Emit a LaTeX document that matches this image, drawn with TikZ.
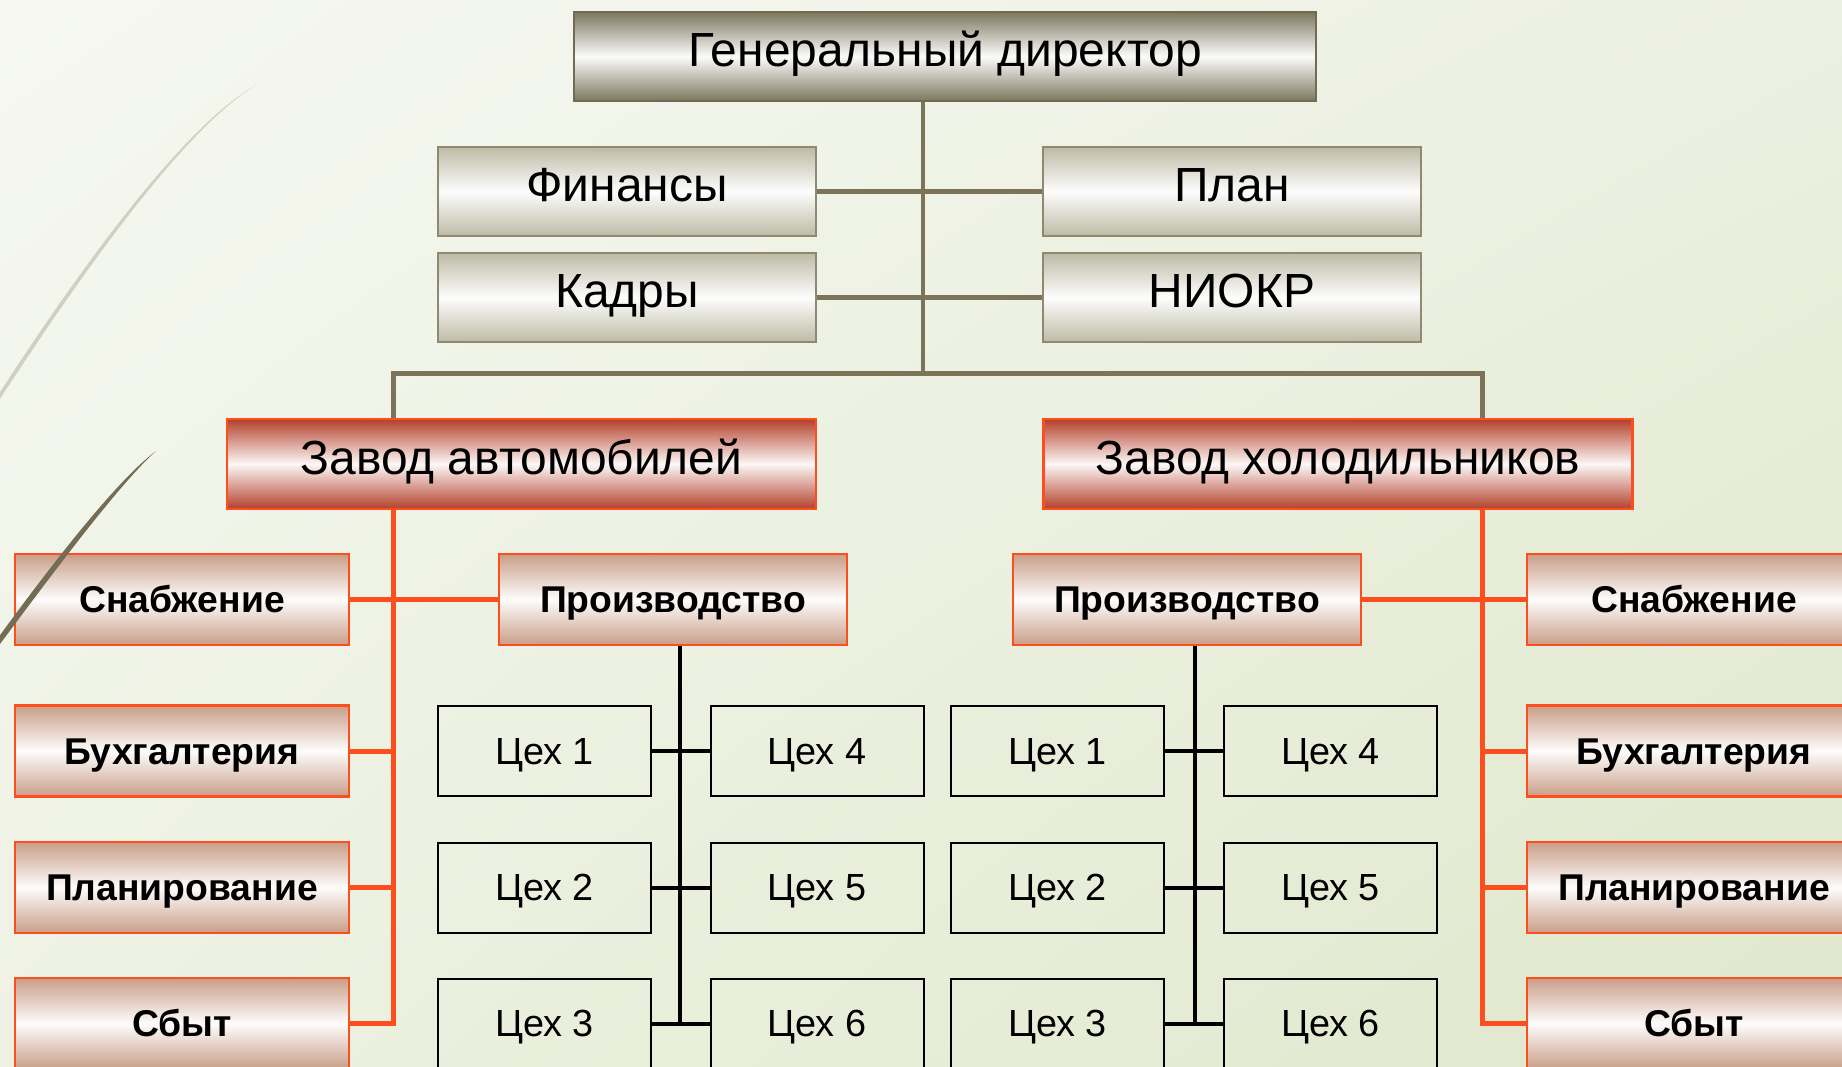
\documentclass[tikz,border=0pt]{standalone}
\usepackage{fontspec}
\setmainfont{Liberation Sans}
\usetikzlibrary{shadings}
\definecolor{bgA}{HTML}{F6F8F1}
\definecolor{bgB}{HTML}{ECF0E1}
\definecolor{bgC}{HTML}{EEF2E3}
\definecolor{bgD}{HTML}{DFE7CB}
\definecolor{olive}{HTML}{7B7459}
\definecolor{oliveDark}{HTML}{7D775F}
\definecolor{oliveLight}{HTML}{BDBAA5}
\definecolor{redLine}{HTML}{FF4E1E}
\definecolor{redDark}{HTML}{B3402A}
\definecolor{pinkTan}{HTML}{C99E88}
\definecolor{arcLight}{HTML}{CFD0C3}
\definecolor{arcDark}{HTML}{736D55}
\tikzset{
  bigfont/.style={font=\fontsize{47.9}{50}\selectfont, text height=34pt, text depth=14pt},
  boldfont/.style={font=\fontsize{37.3}{40}\selectfont\bfseries, text height=26.5pt, text depth=0pt},
  shopfont/.style={font=\fontsize{37.8}{40}\selectfont, text height=26.5pt, text depth=0pt},
  genbox/.style={rectangle, draw=oliveDark!90!black, line width=2pt, inner sep=0pt,
    top color=oliveDark, bottom color=oliveDark, middle color=white!97!oliveDark, bigfont},
  staffbox/.style={rectangle, draw=olive!85, line width=2pt, inner sep=0pt,
    top color=oliveLight, bottom color=oliveLight, middle color=white!97!oliveLight, bigfont,
    minimum width=378pt, minimum height=89pt},
  plantbox/.style={rectangle, draw=redLine, line width=2.5pt, inner sep=0pt,
    top color=redDark, bottom color=redDark, middle color=white!96!redDark, bigfont,
    minimum width=589pt, minimum height=90pt},
  deptbox/.style={rectangle, draw=redLine, line width=2.5pt, inner sep=0pt,
    top color=pinkTan, bottom color=pinkTan, middle color=white!97!pinkTan,
    boldfont, minimum height=91pt},
  shopbox/.style={rectangle, draw=black, line width=2pt, inner sep=0pt,
    shopfont, minimum width=213pt, minimum height=90pt},
  grayline/.style={draw=olive, line width=4.5pt},
  redline/.style={draw=redLine, line width=5pt},
  blackline/.style={draw=black, line width=4pt},
}
\begin{document}
\begin{tikzpicture}[x=1pt, y=-1pt]
% page and background
\useasboundingbox (0,0) rectangle (1842,1066);
\clip (0,0) rectangle (1842,1066);
\shade[upper left=bgA, upper right=bgB, lower left=bgC, lower right=bgD]
  (0,0) rectangle (1842,1066);

% light decorative swoosh on the left edge
\fill[arcLight] (256,85) .. controls (180,131) and (70,291) .. (-4,405)
  -- (-7,403) .. controls (67,288) and (178,129) .. (256,85) -- cycle;

% head office
\node[genbox, minimum width=742pt, minimum height=89pt] (gen) at (945,56.5) {Генеральный директор};
\node[staffbox] (fin)   at (627,191.5)  {Финансы};
\node[staffbox] (plan)  at (1232,191.5) {План};
\node[staffbox] (kad)   at (627,297.5)  {Кадры};
\node[staffbox] (niokr) at (1232,297.5) {НИОКР};

% plants
\node[plantbox] (zavA) at (521.5,464) {Завод автомобилей};
\node[plantbox] (zavX) at (1338,464)  {Завод холодильников};

% junction points of the connector trunks
\coordinate (hub) at (923,373.5);
\coordinate (jL) at (393.5,600);
\coordinate (jR) at (1482.5,600);
\coordinate (kL) at (680,1023.5);
\coordinate (kR) at (1195,1023.5);

% departments of the car plant
\node[deptbox, minimum width=334pt] (snabL) at (182,599.5)  {Снабжение};
\node[deptbox, minimum width=334pt] (buhL)  at (182,751)    {Бухгалтерия};
\node[deptbox, minimum width=334pt] (planL) at (182,887.5)  {Планирование};
\node[deptbox, minimum width=334pt] (sbytL) at (182,1023.5) {Сбыт};
\node[deptbox, minimum width=348pt] (prodL) at (673,599.5)  {Производство};

% departments of the refrigerator plant
\node[deptbox, minimum width=348pt] (prodR) at (1187,599.5)  {Производство};
\node[deptbox, minimum width=334pt] (snabR) at (1694,599.5)  {Снабжение};
\node[deptbox, minimum width=334pt] (buhR)  at (1694,751)    {Бухгалтерия};
\node[deptbox, minimum width=334pt] (planR) at (1694,887.5)  {Планирование};
\node[deptbox, minimum width=334pt] (sbytR) at (1694,1023.5) {Сбыт};

% workshops
\node[shopbox] (a1) at (544.5,751)    {Цех 1};
\node[shopbox] (a2) at (544.5,887.5)  {Цех 2};
\node[shopbox] (a3) at (544.5,1023.5) {Цех 3};
\node[shopbox] (a4) at (817,751)      {Цех 4};
\node[shopbox] (a5) at (817,887.5)    {Цех 5};
\node[shopbox] (a6) at (817,1023.5)   {Цех 6};
\node[shopbox] (b1) at (1057.5,751)    {Цех 1};
\node[shopbox] (b2) at (1057.5,887.5)  {Цех 2};
\node[shopbox] (b3) at (1057.5,1023.5) {Цех 3};
\node[shopbox] (b4) at (1330.5,751)    {Цех 4};
\node[shopbox] (b5) at (1330.5,887.5)  {Цех 5};
\node[shopbox] (b6) at (1330.5,1023.5) {Цех 6};

% head office connectors
\draw[grayline] (gen.south -| hub) -- (hub);
\draw[grayline] (fin.east) -- (plan.west);
\draw[grayline] (kad.east) -- (niokr.west);
\draw[grayline] (zavA.north -| jL) |- (hub) -| (zavX.north -| jR);

% plant connectors
\draw[redline] (zavA.south -| jL) |- (sbytL.east);
\draw[redline] (snabL.east) -- (prodL.west);
\draw[redline] (buhL.east) -- (buhL.east -| jL);
\draw[redline] (planL.east) -- (planL.east -| jL);
\draw[redline] (zavX.south -| jR) |- (sbytR.west);
\draw[redline] (prodR.east) -- (snabR.west);
\draw[redline] (buhR.west) -- (buhR.west -| jR);
\draw[redline] (planR.west) -- (planR.west -| jR);

% workshop connectors
\draw[blackline] (prodL.south -| kL) -- (kL);
\draw[blackline] (a1.east) -- (a4.west);
\draw[blackline] (a2.east) -- (a5.west);
\draw[blackline] (a3.east) -- (a6.west);
\draw[blackline] (prodR.south -| kR) -- (kR);
\draw[blackline] (b1.east) -- (b4.west);
\draw[blackline] (b2.east) -- (b5.west);
\draw[blackline] (b3.east) -- (b6.west);

% dark decorative swoosh, crossing the corner of the first department box
\fill[arcDark] (156,451) .. controls (116,487) and (42,588) .. (-6,652)
  -- (-10,649) .. controls (37,584) and (112,484) .. (156,451) -- cycle;
\end{tikzpicture}
\end{document}
